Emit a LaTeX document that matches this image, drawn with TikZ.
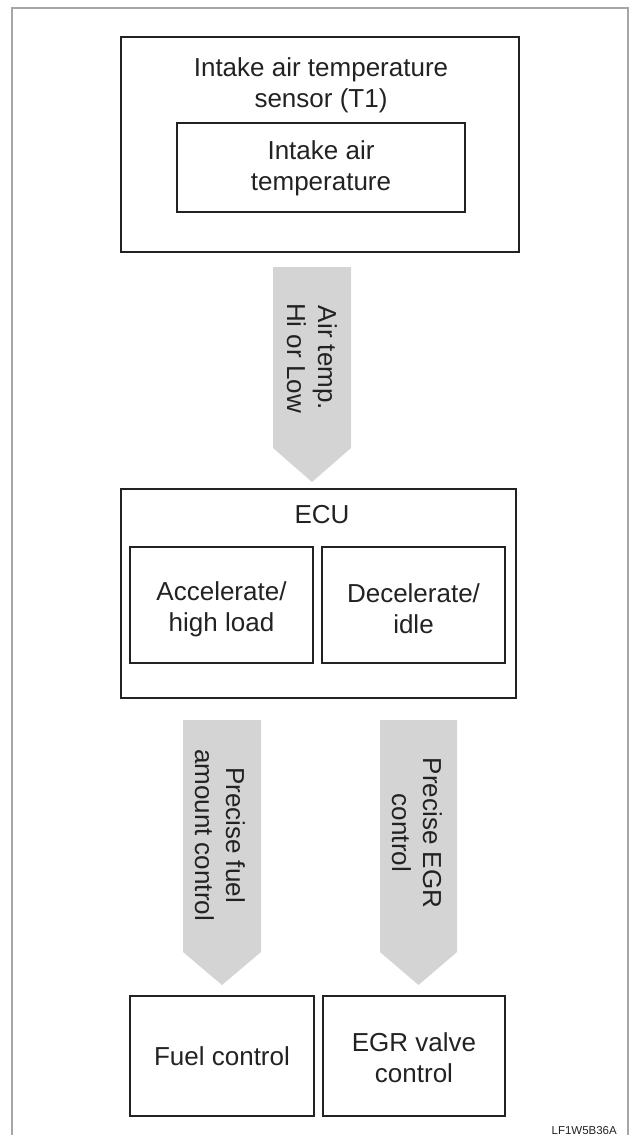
\documentclass[tikz,border=0pt]{standalone}
\usepackage{fontspec}
\setmainfont{Liberation Sans}
\definecolor{boxline}{HTML}{222222}
\definecolor{arrowfill}{HTML}{D4D4D4}
\definecolor{framecol}{HTML}{A6A6A6}
\begin{document}
\begin{tikzpicture}[x=1pt,y=-1pt,
  bigtext/.style={font=\fontsize{26}{31}\selectfont, align=center, text=boxline, inner sep=0pt},
  blockbox/.style={draw=boxline, line width=2.4pt, rectangle, inner sep=0pt},
  blockarrow/.style={fill=arrowfill, draw=none},
  arrowtext/.style={bigtext, rotate=-90}
]
\useasboundingbox (0,0) rectangle (632,1135);
% outer frame
\draw[framecol, line width=2pt] (12,1136) -- (12,8) -- (628,8) -- (628,1136);

% top box
\node[blockbox, minimum width=398pt, minimum height=215pt] (sensor) at (320,144.5) {};
\node[bigtext] (sensortxt) at (321,85.5) {Intake air temperature\\sensor (T1)};
\node[blockbox, minimum width=288pt, minimum height=89pt] (iat) at (321,167.5) {};
\node[bigtext] (iattxt) at (321,168.5) {Intake air\\temperature};

% arrow 1
\fill[blockarrow] (273,267) -- (351,267) -- (351,448) -- (312,482) -- (273,448) -- cycle;
\node[arrowtext] (a1txt) at (312,358) {Air temp.\\Hi or Low};

% ECU
\node[blockbox, minimum width=395pt, minimum height=209pt] (ecu) at (318.5,593.5) {};
\node[bigtext, anchor=base] (ecutxt) at (322,523) {ECU};
\node[blockbox, minimum width=183pt, minimum height=116pt] (accel) at (221.5,605) {};
\node[bigtext] (acceltxt) at (221.5,609) {Accelerate/\\high load};
\node[blockbox, minimum width=183pt, minimum height=116pt] (decel) at (413.5,605) {};
\node[bigtext] (deceltxt) at (413.5,609) {Decelerate/\\idle};

% arrows 2 and 3
\fill[blockarrow] (183,720) -- (261,720) -- (261,952) -- (222,985) -- (183,952) -- cycle;
\node[arrowtext] (a2txt) at (220,835) {Precise fuel\\amount control};
\fill[blockarrow] (380,720) -- (457,720) -- (457,952) -- (418.5,985) -- (380,952) -- cycle;
\node[arrowtext] (a3txt) at (417,833) {Precise EGR\\control};

% bottom boxes
\node[blockbox, minimum width=184pt, minimum height=120pt] (fuel) at (222,1056) {};
\node[bigtext] (fueltxt) at (222,1056) {Fuel control};
\node[blockbox, minimum width=182pt, minimum height=120pt] (egr) at (414,1056) {};
\node[bigtext] (egrtxt) at (414,1058) {EGR valve\\control};

% label
\node[font=\fontsize{11.5}{14}\selectfont, anchor=base east, inner sep=0pt, text=boxline] (code) at (617,1134) {LF1W5B36A};
\end{tikzpicture}
\end{document}
